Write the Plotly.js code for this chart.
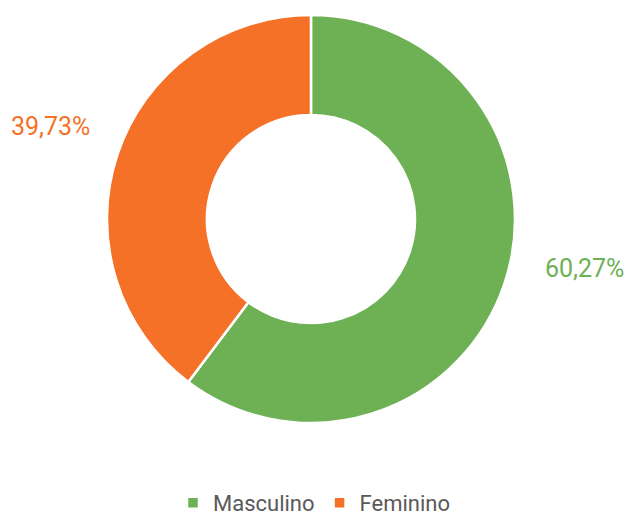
<!DOCTYPE html>
<html><head><meta charset="utf-8">
<script src="https://cdn.plot.ly/plotly-3.0.1.min.js"></script>
<style>html,body{margin:0;padding:0;background:#fff}#chart{width:629px;height:516px}</style>
</head><body><div id="chart"></div>
<script>
const categories = ["Masculino", "Feminino"];
const values = [60.27, 39.73];
const colors = ["#6EB155", "#F47127"];

const fmt = v => v.toFixed(2).replace(".", ",") + "%";

const trace = {
  type: "pie",
  labels: categories,
  values: values,
  sort: false,
  direction: "clockwise",
  rotation: 0,
  hole: 0.51,
  textinfo: "none",
  hoverinfo: "label+percent",
  marker: {colors: colors, line: {color: "#ffffff", width: 2.5}},
  domain: {x: [0.1701, 0.8187], y: [0.115, 0.9686]}
};

const labelPos = [
  {x: 0.995, y: 1 - 268/478, xanchor: "right"},
  {x: 0.015, y: 1 - 126/478, xanchor: "left"}
];

const annotations = categories.map((c, i) => ({
  text: fmt(values[i]),
  xref: "paper", yref: "paper",
  x: labelPos[i].x, y: labelPos[i].y,
  xanchor: labelPos[i].xanchor, yanchor: "middle",
  showarrow: false,
  font: {family: "Roboto, sans-serif", size: 25, color: colors[i]}
}));

const layout = {
  width: 629, height: 516,
  margin: {l: 0, r: 0, t: 0, b: 38},
  paper_bgcolor: "#ffffff",
  showlegend: true,
  legend: {
    orientation: "h", x: 0.5, xanchor: "center",
    yref: "container", y: 1 - 503/516, yanchor: "middle",
    font: {family: "Roboto, sans-serif", size: 22, color: "#595959"},
    itemwidth: 30, tracegroupgap: 0
  },
  annotations: annotations
};

Plotly.newPlot("chart", [trace], layout, {displayModeBar: false, staticPlot: true});
</script></body></html>
